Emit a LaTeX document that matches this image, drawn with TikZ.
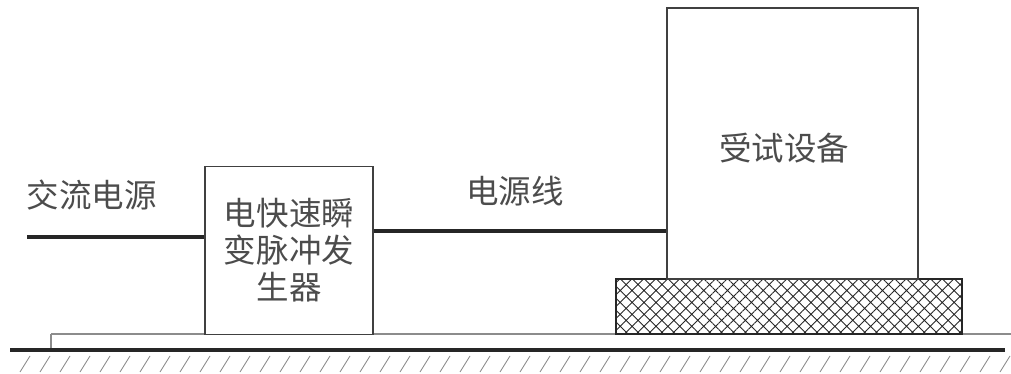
\documentclass[tikz,border=0pt]{standalone}
\usepackage{fontspec}
\newfontfamily\cjk{Noto Sans CJK SC}
\usetikzlibrary{patterns.meta}
\begin{document}
\begin{tikzpicture}[x=0.02cm,y=-0.02cm,
  box/.style={draw=black!75,line width=0.8pt,fill=white,inner sep=0pt,
    font=\cjk\fontsize{18.5}{21}\selectfont,text=black!70},
  lbl/.style={inner sep=0pt,font=\cjk\fontsize{18.5}{21}\selectfont,text=black!70},
  wire/.style={line width=2.6pt,draw=black!85},
  thin/.style={draw=black!45,line width=0.6pt}]
\useasboundingbox (0,0) rectangle (1011,374);
% platform
\coordinate (pl) at (51,334);
\coordinate (pr) at (1011,334);
\coordinate (gl) at (10,350);
\coordinate (gr) at (1005,350);
\draw[thin] (pl) -- (pr);
\draw[thin] (pl) -- (pl |- gl);
% ground
\draw[line width=2.2pt,draw=black!85] (gl) -- (gr);
\foreach \i in {0,...,49}{
  \draw[draw=black!45,line width=0.5pt] (30+20*\i,356) -- (20+20*\i,372);
}
% hatched base
\node[draw=black!85,line width=0.8pt,minimum width=6.92cm,minimum height=1.1cm,inner sep=0pt,
  pattern={Hatch[angle=45,distance=4.8pt,line width=0.5pt]},pattern color=black!85]
  (base) at (789,306.5) {};
% generator
\node[box,minimum width=3.36cm,minimum height=3.36cm,align=center] (gen) at (289,250.5)
  {电快速瞬\\变脉冲发\\生器};
% device under test
\node[box,minimum width=5.02cm,minimum height=5.42cm] (dut) at (792.5,143.5) {};
\node[lbl] (duttext) at (784,148) {受试设备};
% wires
\coordinate (src) at (27,237);
\coordinate (m) at (373,231);
\draw[wire] (src) -- (src -| gen.west);
\draw[wire] (m -| gen.east) -- (m -| dut.west);
% labels
\node[lbl] (ac) at (92,195) {交流电源};
\node[lbl] (line) at (515,191.5) {电源线};
\end{tikzpicture}
\end{document}
